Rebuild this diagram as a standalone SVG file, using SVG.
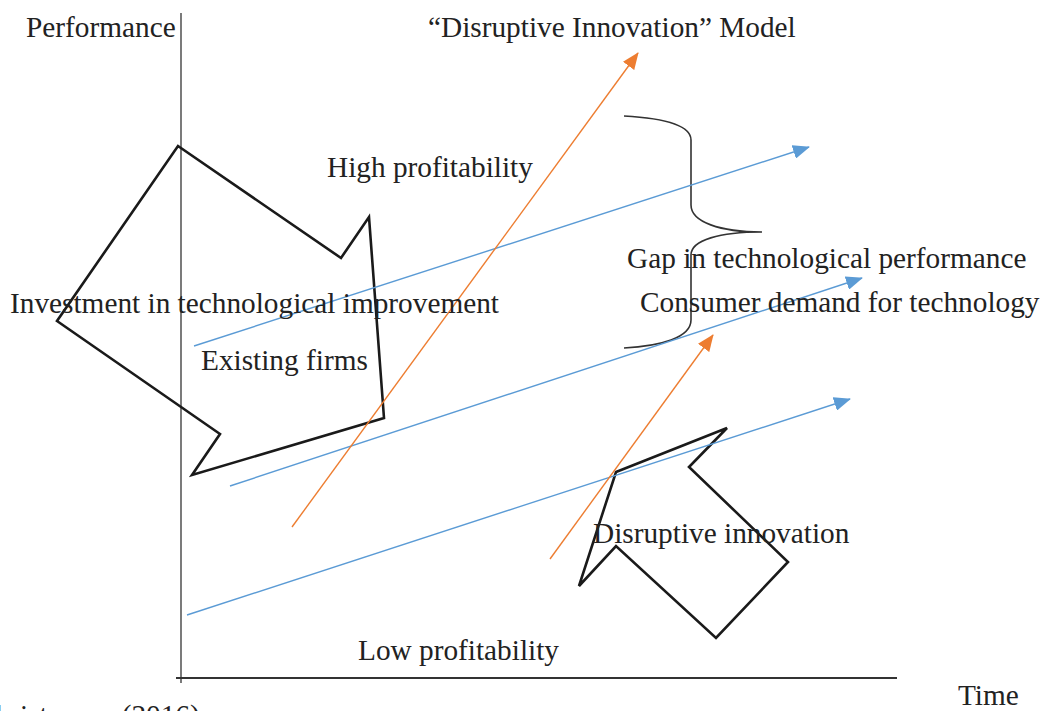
<svg xmlns="http://www.w3.org/2000/svg" width="1047" height="711" viewBox="0 0 1047 711">
  <style>
    text { font-family: "Liberation Serif", "Times New Roman", serif; font-size: 29.3px; fill: #222; }
    .axis { stroke: #333; fill: none; }
    .shape { stroke: #1a1a1a; stroke-width: 2.6; fill: none; stroke-linejoin: miter; }
    .blue { stroke: #5B9BD5; stroke-width: 1.4; fill: none; }
    .orange { stroke: #ED7D31; stroke-width: 1.4; fill: none; }
    .brace { stroke: #333; stroke-width: 1.6; fill: none; }
  </style>
  <defs>
    <marker id="headBlue" markerUnits="userSpaceOnUse" markerWidth="18" markerHeight="14" refX="16" refY="7" orient="auto">
      <path d="M0,0 L17,7 L0,14 Z" fill="#5B9BD5"/>
    </marker>
    <marker id="headOrange" markerUnits="userSpaceOnUse" markerWidth="18" markerHeight="14" refX="16" refY="7" orient="auto">
      <path d="M0,0 L17,7 L0,14 Z" fill="#ED7D31"/>
    </marker>
  </defs>

  <rect width="1047" height="711" fill="#fff"/>

  <!-- axes -->
  <g id="axes">
    <line class="axis" x1="181" y1="13" x2="181" y2="683" stroke-width="1.3"/>
    <line class="axis" x1="176" y1="678" x2="897" y2="678" stroke-width="2"/>
  </g>

  <!-- existing firms block arrow -->
  <g id="existing-firms-shape">
    <polygon class="shape" points="178,146 341,258 369,217 384,418 192,475 220,434 57,321"/>
  </g>

  <!-- disruptive innovation block arrow -->
  <g id="disruptive-shape">
    <polygon class="shape" points="616,472 727,428 689,467 788,562 716,638 616,546 579,586"/>
  </g>

  <!-- gap brace -->
  <g id="brace">
    <path class="brace" d="M624,116 C660,118 691,124 691,140 L691,205 C691,222 720,232 762,232 C720,232 691,240 691,255 L691,320 C691,338 660,346 624,348"/>
  </g>

  <!-- connectors -->
  <g id="connectors">
    <line class="blue" x1="194" y1="346" x2="809" y2="147" marker-end="url(#headBlue)"/>
    <line class="blue" x1="230" y1="486" x2="862" y2="278" marker-end="url(#headBlue)"/>
    <line class="blue" x1="187" y1="615" x2="850" y2="399" marker-end="url(#headBlue)"/>
    <line class="orange" x1="292" y1="527" x2="638" y2="53" marker-end="url(#headOrange)"/>
    <line class="orange" x1="550" y1="559" x2="713" y2="335" marker-end="url(#headOrange)"/>
  </g>

  <!-- labels -->
  <g id="labels">
    <text x="26" y="37">Performance</text>
    <text x="428" y="37">“Disruptive Innovation” Model</text>
    <text x="327" y="177">High profitability</text>
    <text x="10" y="313">Investment in technological improvement</text>
    <text x="201" y="370">Existing firms</text>
    <text x="627" y="268">Gap in technological performance</text>
    <text x="640" y="312">Consumer demand for technology</text>
    <text x="593" y="543">Disruptive innovation</text>
    <text x="358" y="660">Low profitability</text>
    <text x="958" y="705">Time</text>
    <text x="-24" y="725">Christensen (2016)</text>
  </g>
</svg>
